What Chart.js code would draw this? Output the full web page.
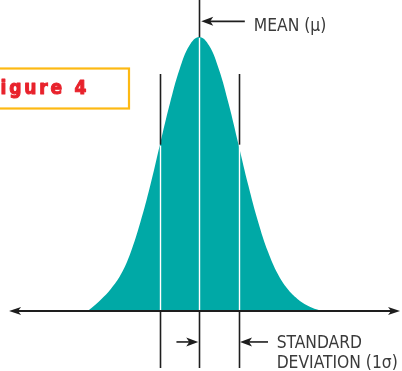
<!DOCTYPE html>
<html>
<head>
<meta charset="utf-8">
<script src="https://cdn.jsdelivr.net/npm/chart.js@4.4.0/dist/chart.umd.min.js"></script>
<style>
  html, body { margin: 0; padding: 0; background: #fff; }
  #wrap { width: 402px; height: 371px; }
</style>
</head>
<body>
<div id="wrap"><canvas id="bell" width="402" height="371"></canvas></div>
<script>
// positions along the axis, in standard deviations from the mean
const sigmaSteps = [-2.85, -2.75, -2.5, -2.25, -2, -1.75, -1.5, -1.25, -1, -0.75, -0.5, -0.25, 0,
                    0.25, 0.5, 0.75, 1, 1.25, 1.5, 1.75, 2, 2.25, 2.5, 2.75, 3, 3.15];
// curve height (peak = 100)
const curveHeight = [0, 1, 4.2, 8, 13.2, 21.2, 32.3, 45.6, 60.7, 75.5, 88.2, 96.9, 100,
                     96.9, 88.2, 75.5, 60.7, 45.8, 32.5, 21.6, 13.5, 8, 4.4, 2, 0.5, 0];
const markerLines = [-1, 0, 1];
const meanLabel = 'MEAN (\u03bc)';
const sdLabel = ['STANDARD', 'DEVIATION (1\u03c3)'];
const figureLabel = 'Figure 4';

const TEAL = '#00a9a6';
const INK = '#1e1e1e';
const LABEL_FONT = '"DejaVu Sans Condensed", "Liberation Sans Narrow", sans-serif';

function arrow(ctx, x1, y, x2, len, half) {
    // shaft from x1 to the tip at x2
    const dir = x2 > x1 ? 1 : -1;
    ctx.beginPath();
    ctx.moveTo(x1, y);
    ctx.lineTo(x2 - dir * len * 0.6, y);
    ctx.stroke();
    ctx.beginPath();
    ctx.moveTo(x2, y);
    ctx.lineTo(x2 - dir * len, y - half);
    ctx.lineTo(x2 - dir * len * 0.75, y);
    ctx.lineTo(x2 - dir * len, y + half);
    ctx.closePath();
    ctx.fill();
}

const decorations = {
    id: 'decorations',
    afterDatasetsDraw(chart) {
        const ctx = chart.ctx;
        const xs = chart.scales.x, ys = chart.scales.y;
        const y0 = ys.getPixelForValue(0);
        ctx.save();
        ctx.lineCap = 'butt';

        // vertical marker lines: black outside the curve, white inside it
        markerLines.forEach(s => {
            const px = Math.round(xs.getPixelForValue(s)) + 0.5;
            const idx = sigmaSteps.indexOf(s);
            const yc = ys.getPixelForValue(curveHeight[idx]);
            const top = s === 0 ? ys.getPixelForValue(ys.max) : ys.getPixelForValue(86.5);
            ctx.lineWidth = 1.6;
            ctx.strokeStyle = INK;
            ctx.beginPath(); ctx.moveTo(px, top); ctx.lineTo(px, yc); ctx.stroke();
            ctx.beginPath(); ctx.moveTo(px, y0); ctx.lineTo(px, ys.getPixelForValue(-20.8)); ctx.stroke();
            ctx.strokeStyle = '#ffffff';
            ctx.lineWidth = 1.4;
            ctx.beginPath(); ctx.moveTo(px, yc + 1); ctx.lineTo(px, y0 - 1); ctx.stroke();
        });

        // horizontal axis with arrows at both ends
        ctx.strokeStyle = INK;
        ctx.fillStyle = INK;
        ctx.lineWidth = 2;
        const left = xs.getPixelForValue(-4.84), right = xs.getPixelForValue(5.11);
        ctx.beginPath(); ctx.moveTo(left + 6, y0); ctx.lineTo(right - 6, y0); ctx.stroke();
        arrow(ctx, left + 20, y0, left, 12, 4);
        arrow(ctx, right - 20, y0, right, 12, 4);

        // mean arrow and label
        ctx.lineWidth = 1.6;
        const yMean = ys.getPixelForValue(105.7);
        arrow(ctx, xs.getPixelForValue(1.16), yMean, xs.getPixelForValue(0) + 2, 12, 4.5);
        ctx.fillStyle = '#3a3a3a';
        ctx.font = '17.3px ' + LABEL_FONT;
        ctx.textBaseline = 'alphabetic';
        ctx.fillText(meanLabel, xs.getPixelForValue(1.39), 30.5);

        // standard deviation arrows and label
        ctx.fillStyle = INK;
        const ySd = ys.getPixelForValue(-11.3);
        arrow(ctx, xs.getPixelForValue(1.75), ySd, xs.getPixelForValue(1) + 1.5, 12, 4.5);
        arrow(ctx, xs.getPixelForValue(-0.58), ySd, xs.getPixelForValue(0) - 1, 12, 4.5);
        ctx.fillStyle = '#3a3a3a';
        ctx.fillText(sdLabel[0], xs.getPixelForValue(1.97), 348);
        ctx.fillText(sdLabel[1], xs.getPixelForValue(1.97), 368);

        // figure tag, cut at the left edge
        ctx.strokeStyle = '#fdb913';
        ctx.lineWidth = 2.2;
        ctx.strokeRect(-10, 68.5, 139, 40);
        ctx.fillStyle = '#e8222c';
        ctx.strokeStyle = '#e8222c';
        ctx.lineWidth = 1;
        ctx.lineJoin = 'round';
        ctx.font = 'bold 19px "DejaVu Sans Condensed", "Liberation Sans Narrow", sans-serif';
        const gap = 2.8;
        let cx = -(ctx.measureText('F').width + gap) + 0.5;
        for (const ch of figureLabel) {
            ctx.fillText(ch, cx, 93.5);
            ctx.strokeText(ch, cx, 93.5);
            cx += ctx.measureText(ch).width + (ch === ' ' ? gap + 1 : gap);
        }
        ctx.restore();
    }
};

new Chart(document.getElementById('bell'), {
    type: 'line',
    data: {
        datasets: [{
            data: sigmaSteps.map((s, i) => ({ x: s, y: curveHeight[i] })),
            borderWidth: 0,
            borderColor: TEAL,
            backgroundColor: TEAL,
            fill: 'origin',
            pointRadius: 0,
            tension: 0.4
        }]
    },
    options: {
        responsive: false,
        animation: false,
        layout: { padding: 0 },
        plugins: { legend: { display: false }, tooltip: { enabled: false } },
        scales: {
            x: { type: 'linear', min: -5.07, max: 5.16, display: false },
            y: { min: -21.9, max: 113.5, display: false }
        }
    },
    plugins: [decorations]
});
</script>
</body>
</html>
